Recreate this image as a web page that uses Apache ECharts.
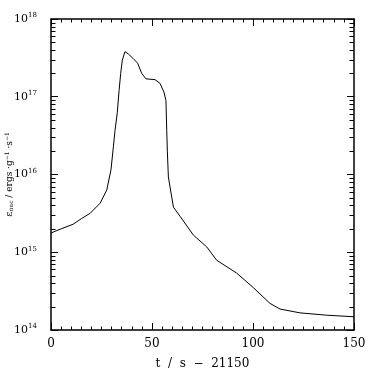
<!DOCTYPE html>
<html>
<head>
<meta charset="utf-8">
<script src="https://cdn.jsdelivr.net/npm/echarts@6/dist/echarts.min.js"></script>
<style>
  html, body { margin: 0; padding: 0; background: #fff; }
  #chart { width: 374px; height: 372px; }
</style>
</head>
<body>
<div id="chart"></div>
<script>
// time offset (s - 21150) and nuclear energy rate (erg/g/s)
const tValues = [0, 5, 10.9, 15, 19.3, 24.3, 27.6, 29.7, 30.9, 31.7, 32.8, 33.7, 34.5, 35.3,
  36.6, 38.3, 40.7, 42.9, 44.9, 47.0, 51.5, 54, 55.9, 56.9, 57.3, 57.6, 58.1, 60.6, 63.9,
  70.5, 77.1, 82, 91.9, 100.2, 108.4, 113.4, 123.3, 136.5, 150];
const epsValues = [1.77e15, 2.0e15, 2.29e15, 2.7e15, 3.16e15, 4.27e15, 6.3e15, 1.15e16, 2.3e16,
  3.7e16, 6.2e16, 1.2e17, 2.0e17, 2.95e17, 3.8e17, 3.55e17, 3.1e17, 2.7e17, 2.0e17, 1.7e17,
  1.66e17, 1.48e17, 1.15e17, 8.9e16, 3.7e16, 2.0e16, 9.3e15, 3.8e15, 2.9e15, 1.66e15, 1.17e15,
  7.9e14, 5.4e14, 3.5e14, 2.2e14, 1.86e14, 1.66e14, 1.55e14, 1.48e14];

const decadeExps = [14, 15, 16, 17];
const minorMults = [2, 3, 4, 5, 6, 7, 8, 9];
const xTicks = [0, 50, 100, 150];
const xEdges = [0, 150];

// minor log ticks (2..9 x 10^n) on both vertical frame edges, placed through the scales
const minorTickVals = [];
xEdges.forEach(x => decadeExps.forEach(e =>
  minorMults.forEach(m => minorTickVals.push([x, m * Math.pow(10, e)]))));

const FONT = "DejaVu Serif";
const lineData = tValues.map((t, i) => [t, epsValues[i]]);

const chart = echarts.init(document.getElementById("chart"));

const xCommon = {
  type: "value", min: 0, max: 150, interval: 50,
  axisLine: { onZero: false, lineStyle: { color: "#000", width: 1.5 } },
  axisTick: { inside: true, length: 7, lineStyle: { color: "#000" } },
  minorTick: { show: true, splitNumber: 10, length: 3.5, lineStyle: { color: "#000" } },
  splitLine: { show: false }
};
const yCommon = {
  type: "log", logBase: 10, min: 1e14, max: 1e18, splitNumber: 4,
  axisLine: { onZero: false, lineStyle: { color: "#000", width: 1.5 } },
  axisTick: { inside: true, length: 7, lineStyle: { color: "#000" } },
  splitLine: { show: false }
};

chart.setOption({
  animation: false,
  grid: { left: 51, right: 20, top: 19, bottom: 42, containLabel: false, outerBoundsMode: "none" },
  xAxis: [
    Object.assign({}, xCommon, {
      position: "bottom",
      name: "t  /  s  \u2212  21150",
      nameLocation: "middle",
      nameGap: 28,
      nameMoveOverlap: false,
      nameTextStyle: { fontFamily: FONT, fontSize: 12, color: "#000" },
      axisLabel: { margin: 8, fontFamily: FONT, fontSize: 12, color: "#000",
        formatter: v => (xTicks.indexOf(v) >= 0 ? String(v) : "") }
    }),
    Object.assign({}, xCommon, { position: "top", axisLabel: { show: false } })
  ],
  yAxis: [
    Object.assign({}, yCommon, {
      position: "left",
      name: "{e|\u03b5}{sub|nuc}{t| / ergs \u00b7g}{sup|\u22121}{t| \u00b7s}{sup|\u22121}",
      nameLocation: "middle",
      nameRotate: 90,
      nameGap: 36,
      nameMoveOverlap: false,
      nameTextStyle: {
        color: "#000",
        rich: {
          e: { fontFamily: FONT, fontSize: 10, color: "#000" },
          t: { fontFamily: FONT, fontSize: 9, color: "#000" },
          sub: { fontFamily: FONT, fontSize: 6, color: "#000", padding: [4, 0, 0, 0] },
          sup: { fontFamily: FONT, fontSize: 6, color: "#000", padding: [0, 0, 5, 0] }
        }
      },
      axisLabel: {
        margin: 14,
        formatter: v => "{b|10}{s|" + Math.round(Math.log10(v)) + "}",
        rich: {
          b: { fontFamily: FONT, fontSize: 11, color: "#000" },
          s: { fontFamily: FONT, fontSize: 7, color: "#000", padding: [0, 0, 7, 0] }
        }
      }
    }),
    Object.assign({}, yCommon, { position: "right", axisLabel: { show: false } })
  ],
  series: [
    {
      type: "line",
      data: lineData,
      xAxisIndex: 0, yAxisIndex: 0,
      showSymbol: false,
      smooth: false,
      lineStyle: { color: "#000", width: 1 }
    },
    {
      type: "custom",
      data: minorTickVals,
      xAxisIndex: 0, yAxisIndex: 0,
      clip: false,
      silent: true,
      z: 10,
      renderItem: (params, api) => {
        const p = api.coord([api.value(0), api.value(1)]);
        const dir = params.dataIndex < minorTickVals.length / 2 ? 1 : -1;
        const y = Math.round(p[1]) + 0.5;
        return {
          type: "line",
          shape: { x1: p[0], y1: y, x2: p[0] + dir * 4.5, y2: y },
          style: { stroke: "#000", lineWidth: 1 }
        };
      }
    }
  ]
});
</script>
</body>
</html>
